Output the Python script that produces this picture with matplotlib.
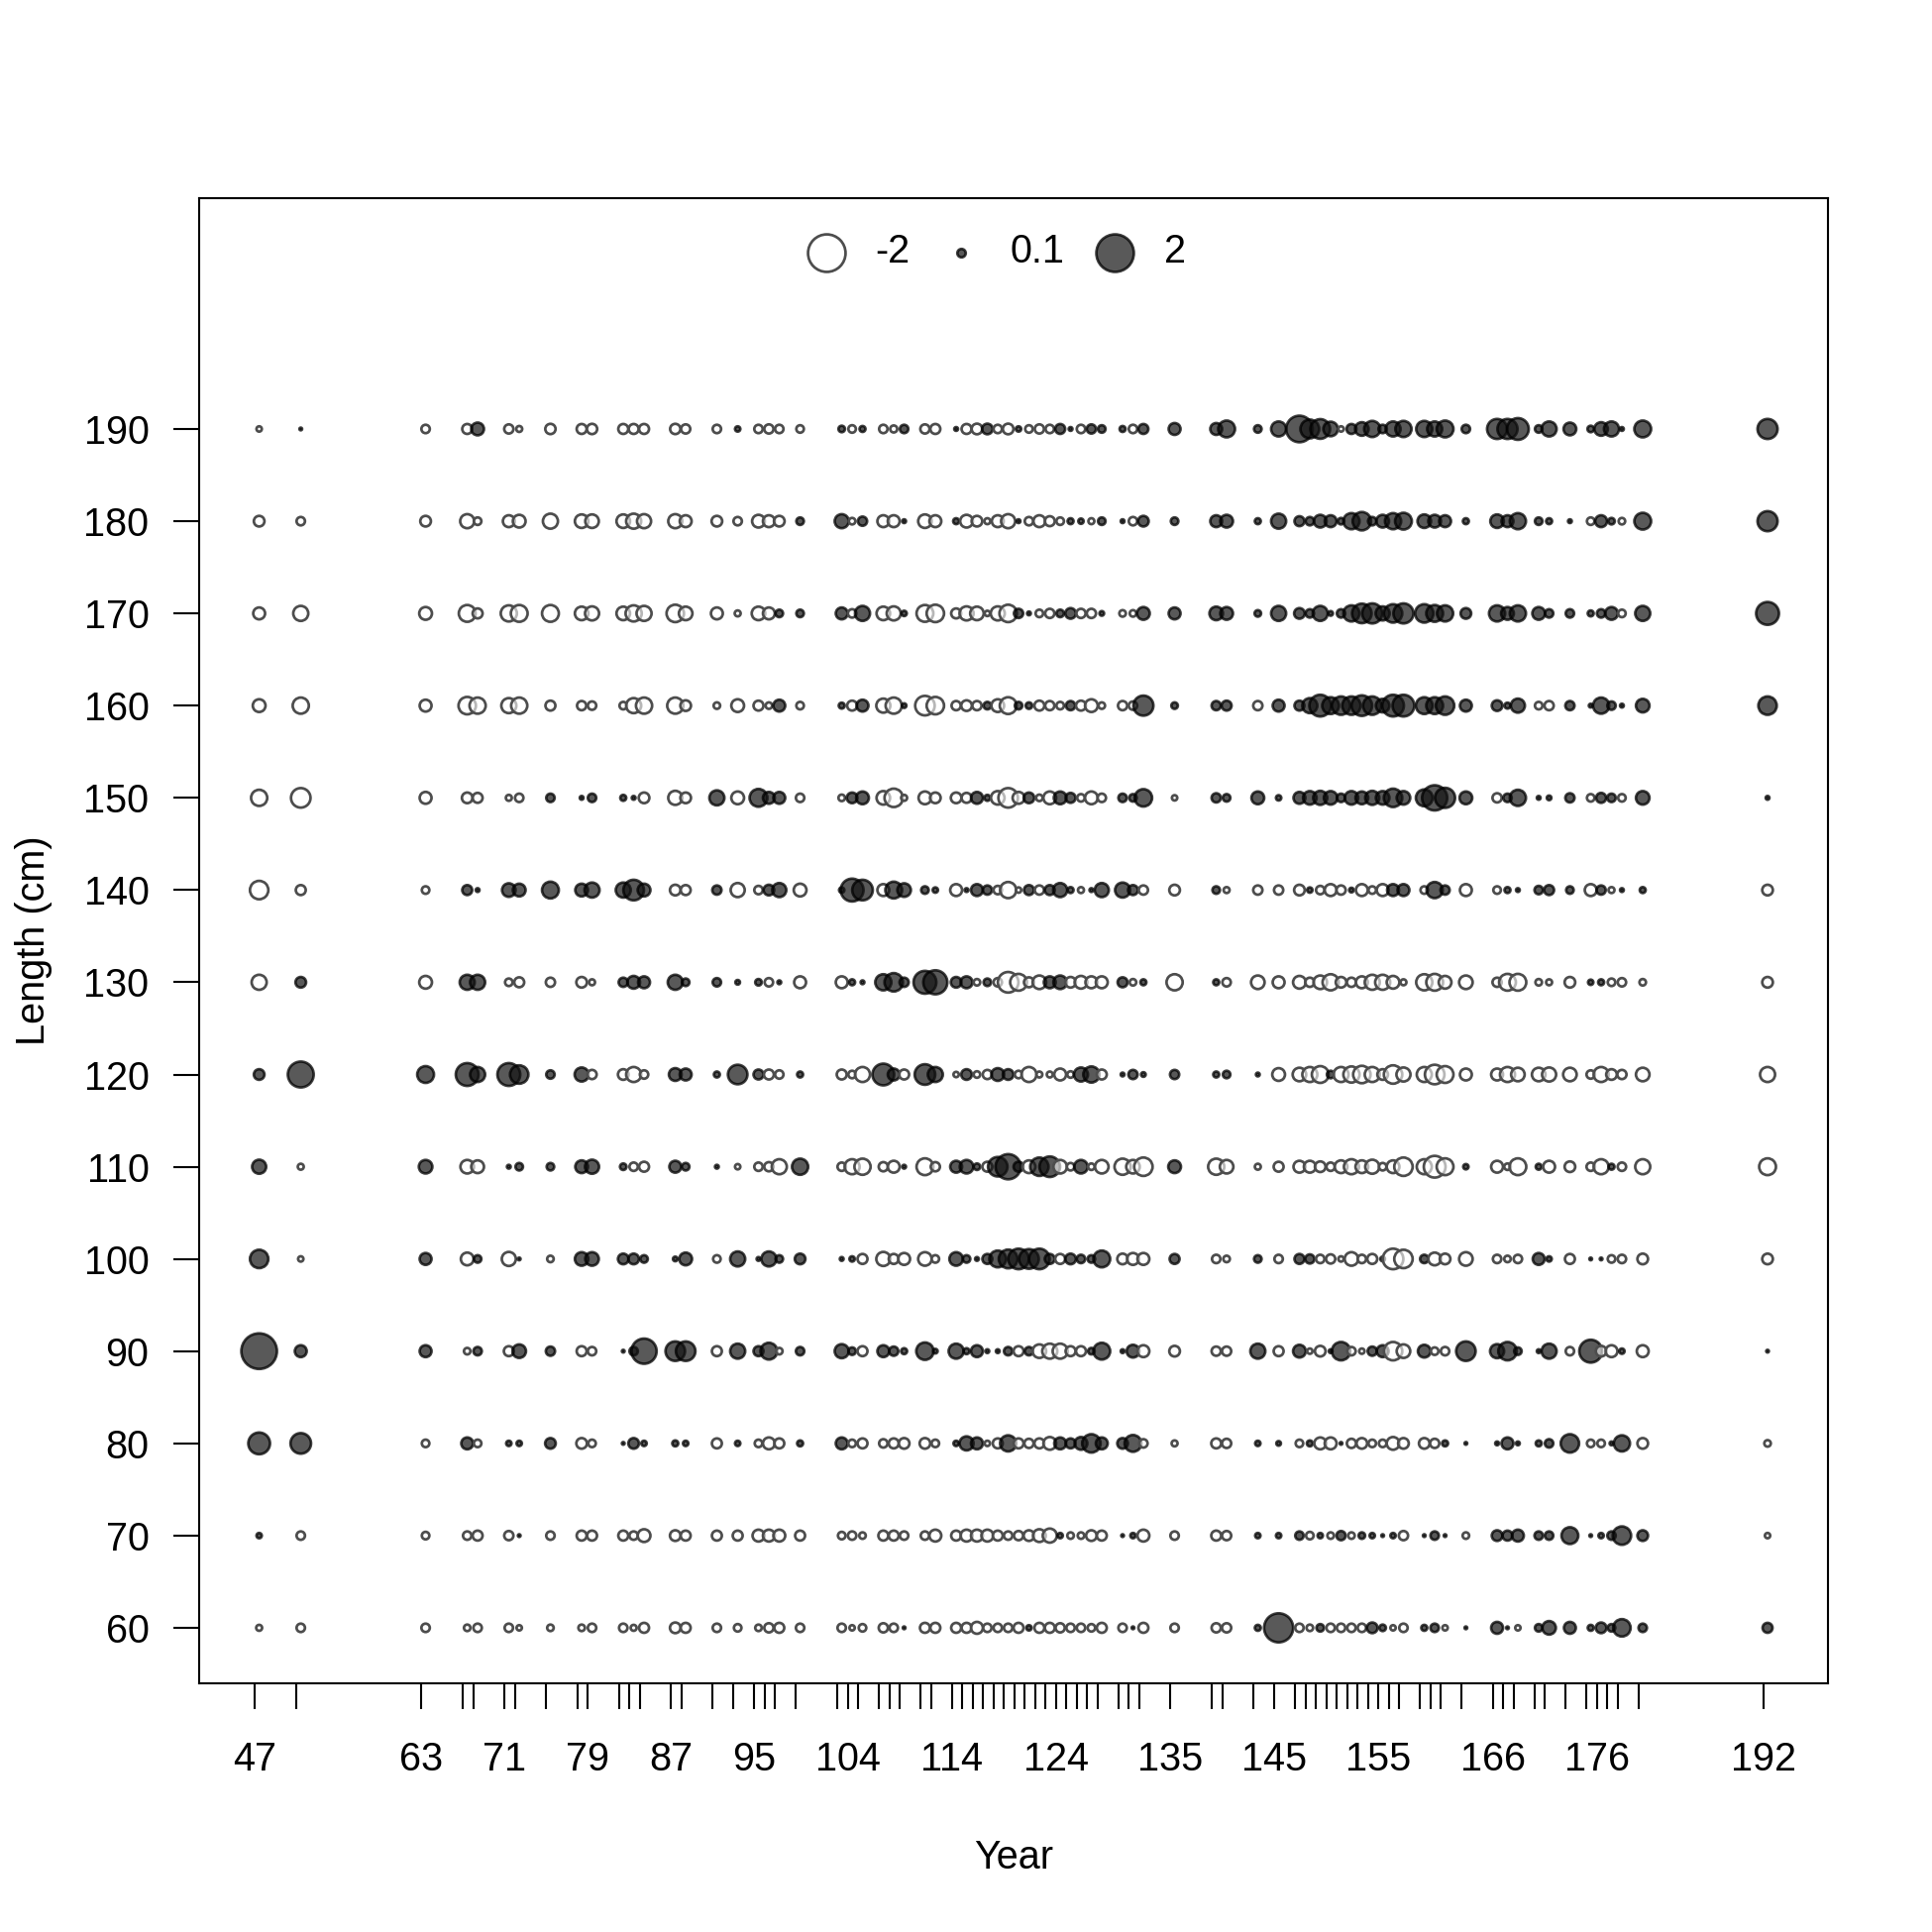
import matplotlib
matplotlib.use("Agg")
import matplotlib.pyplot as plt
import matplotlib.transforms as mtransforms
import numpy as np

plt.rcParams['font.family'] = ['Liberation Sans', 'DejaVu Sans']

years = [47, 51, 63, 67, 68, 71, 72, 75, 78, 79, 82, 83, 84, 87, 88, 91, 93, 95, 96, 97,
         99, 103, 104, 105, 107, 108, 109, 111, 112, 114, 115, 116, 117, 118, 119, 120, 121, 122, 123, 124,
         125, 126, 127, 128, 130, 131, 132, 135, 139, 140, 143, 145, 147, 148, 149, 150, 151, 152, 153, 154,
         155, 156, 157, 159, 160, 161, 163, 166, 167, 168, 170, 171, 173, 175, 176, 177, 178, 180, 192]
labelled_years = [47, 63, 71, 79, 87, 95, 104, 114, 124, 135, 145, 155, 166, 176, 192]
lengths = [60, 70, 80, 90, 100, 110, 120, 130, 140, 150, 160, 170, 180, 190]

# Pearson residuals by length bin (one value per year)
res_190 = [-0.04, 0.01, -0.10, -0.14, 0.23, -0.12, -0.05, -0.15, -0.14, -0.15,
           -0.14, -0.14, -0.14, -0.15, -0.12, -0.10, 0.04, -0.10, -0.12, -0.10,
           -0.08, 0.06, -0.08, 0.05, -0.10, -0.07, 0.10, -0.12, -0.14, 0.02,
           -0.14, -0.16, 0.16, -0.10, -0.16, 0.04, -0.08, -0.12, -0.10, 0.14,
           0.02, -0.10, 0.12, 0.08, 0.05, -0.10, 0.14, 0.20, 0.20, 0.40,
           0.08, 0.32, 1.00, 0.50, 0.55, 0.30, -0.04, 0.14, 0.26, 0.37,
           0.10, 0.32, 0.37, 0.37, 0.32, 0.40, 0.10, 0.57, 0.57, 0.67,
           0.08, 0.32, 0.23, 0.06, 0.26, 0.32, 0.02, 0.40, 0.57]
res_180 = [-0.16, -0.10, -0.16, -0.28, -0.08, -0.20, -0.23, -0.32, -0.26, -0.26,
           -0.26, -0.32, -0.28, -0.28, -0.20, -0.16, -0.10, -0.23, -0.20, -0.16,
           0.08, 0.28, -0.06, 0.12, -0.20, -0.20, 0.02, -0.26, -0.20, 0.05,
           -0.23, -0.16, -0.05, -0.20, -0.28, 0.02, -0.10, -0.20, -0.14, -0.08,
           0.05, 0.04, -0.05, 0.08, 0.02, -0.10, 0.16, 0.08, 0.20, 0.23,
           0.05, 0.32, 0.14, 0.10, 0.23, 0.20, 0.06, 0.37, 0.48, 0.10,
           0.23, 0.37, 0.40, 0.26, 0.23, 0.20, 0.05, 0.26, 0.20, 0.37,
           0.08, 0.05, 0.02, -0.08, 0.20, 0.06, -0.06, 0.40, 0.57]
res_170 = [-0.20, -0.32, -0.23, -0.40, -0.14, -0.37, -0.40, -0.40, -0.26, -0.28,
           -0.26, -0.37, -0.32, -0.43, -0.26, -0.20, -0.05, -0.26, -0.20, 0.08,
           0.08, 0.20, -0.10, 0.32, -0.26, -0.28, 0.04, -0.40, -0.43, -0.14,
           -0.28, -0.26, -0.04, -0.28, -0.43, 0.12, 0.02, -0.08, -0.12, 0.08,
           0.16, -0.12, -0.12, 0.03, -0.06, -0.06, 0.23, 0.20, 0.26, 0.23,
           0.06, 0.32, 0.16, 0.10, 0.32, 0.03, 0.10, 0.37, 0.54, 0.57,
           0.28, 0.48, 0.57, 0.48, 0.40, 0.37, 0.16, 0.37, 0.23, 0.37,
           0.23, 0.10, 0.10, 0.05, 0.10, 0.23, -0.08, 0.32, 0.74]
res_160 = [-0.23, -0.37, -0.20, -0.43, -0.37, -0.32, -0.37, -0.14, -0.12, -0.10,
           -0.08, -0.32, -0.37, -0.37, -0.16, -0.06, -0.23, -0.14, -0.06, 0.20,
           -0.08, 0.05, -0.14, 0.20, -0.28, -0.37, 0.03, -0.54, -0.43, -0.12,
           -0.16, -0.12, 0.08, -0.23, -0.40, 0.08, 0.06, -0.14, -0.12, -0.08,
           0.12, -0.14, -0.23, -0.06, -0.12, -0.10, 0.57, 0.06, 0.12, 0.14,
           -0.12, 0.20, 0.14, 0.32, 0.67, 0.40, 0.48, 0.48, 0.60, 0.48,
           0.26, 0.67, 0.67, 0.40, 0.40, 0.48, 0.20, 0.16, 0.05, 0.28,
           -0.08, -0.12, 0.12, 0.02, 0.37, 0.10, 0.02, 0.26, 0.48]
res_150 = [-0.37, -0.54, -0.20, -0.16, -0.14, -0.05, -0.10, 0.10, 0.02, 0.10,
           0.05, 0.02, -0.16, -0.28, -0.16, 0.32, -0.23, 0.45, 0.20, 0.20,
           -0.10, -0.06, 0.16, 0.23, -0.26, -0.48, -0.05, -0.23, -0.16, -0.16,
           -0.14, 0.20, 0.05, -0.26, -0.54, -0.20, 0.16, -0.06, -0.23, 0.23,
           0.14, -0.08, -0.23, -0.10, 0.10, 0.08, 0.43, -0.04, 0.12, 0.08,
           0.23, 0.04, 0.20, 0.26, 0.28, 0.26, 0.10, 0.26, 0.23, 0.28,
           0.26, 0.48, 0.26, 0.40, 0.90, 0.57, 0.23, -0.12, 0.10, 0.37,
           0.02, 0.03, 0.12, -0.08, 0.14, 0.10, -0.08, 0.26, 0.02]
res_140 = [-0.48, -0.14, -0.08, 0.14, 0.02, 0.26, 0.23, 0.40, 0.23, 0.32,
           0.32, 0.60, 0.23, -0.16, -0.14, 0.12, -0.28, -0.10, 0.16, 0.28,
           -0.23, 0.04, 0.74, 0.60, -0.20, 0.40, 0.26, 0.08, 0.04, -0.20,
           0.02, 0.20, 0.12, -0.10, -0.37, -0.04, 0.14, -0.12, 0.14, 0.28,
           0.05, -0.05, 0.02, 0.28, 0.32, 0.14, -0.12, -0.16, 0.08, -0.05,
           -0.12, -0.12, -0.16, 0.04, -0.10, -0.20, -0.12, 0.03, -0.20, -0.08,
           -0.20, 0.20, 0.20, -0.08, 0.37, 0.12, -0.20, -0.08, 0.05, 0.02,
           0.10, 0.14, 0.08, -0.20, 0.12, -0.05, 0.02, 0.05, -0.16]
res_130 = [-0.32, 0.16, -0.23, 0.32, 0.32, -0.08, -0.14, -0.12, -0.16, -0.05,
           0.12, 0.23, 0.20, 0.32, 0.08, 0.10, 0.03, 0.06, -0.10, 0.02,
           -0.20, -0.20, 0.05, 0.02, 0.37, 0.48, 0.12, 0.74, 0.82, 0.16,
           0.20, -0.06, 0.08, -0.10, -0.60, -0.40, -0.14, -0.26, 0.20, 0.26,
           -0.16, -0.23, -0.20, -0.20, 0.14, -0.06, 0.05, -0.37, 0.05, -0.10,
           -0.26, -0.20, -0.23, -0.12, -0.26, -0.37, -0.16, -0.12, -0.20, -0.32,
           -0.32, -0.23, -0.05, -0.37, -0.40, -0.23, -0.26, -0.12, -0.40, -0.40,
           -0.06, -0.05, -0.16, 0.04, 0.05, -0.08, -0.10, -0.06, -0.16]
res_120 = [0.16, 0.95, 0.40, 0.74, 0.32, 0.74, 0.48, 0.10, 0.28, -0.12,
           -0.16, -0.32, -0.10, 0.23, 0.20, 0.05, 0.54, 0.14, -0.14, -0.10,
           0.05, -0.14, -0.08, -0.32, 0.67, 0.20, -0.14, 0.60, 0.32, -0.04,
           0.16, -0.06, -0.12, 0.23, 0.16, -0.08, -0.32, -0.05, -0.05, -0.20,
           -0.06, 0.28, 0.37, -0.14, 0.02, 0.12, 0.03, 0.12, 0.05, 0.08,
           0.02, -0.23, -0.26, -0.32, -0.40, 0.08, -0.32, -0.37, -0.43, -0.32,
           -0.16, -0.48, -0.28, -0.32, -0.54, -0.40, -0.20, -0.20, -0.32, -0.26,
           -0.26, -0.28, -0.26, -0.10, -0.32, -0.16, -0.12, -0.26, -0.32]
res_110 = [0.28, -0.05, 0.26, -0.26, -0.23, 0.02, 0.08, 0.08, 0.23, 0.28,
           0.06, -0.10, -0.14, 0.20, 0.08, 0.02, -0.04, -0.10, -0.12, -0.32,
           0.37, -0.10, -0.32, -0.37, -0.12, -0.20, 0.02, -0.40, -0.12, 0.20,
           0.26, 0.06, -0.14, 0.54, 0.90, 0.14, -0.23, 0.48, 0.60, -0.26,
           -0.08, 0.26, -0.06, -0.26, -0.37, -0.26, -0.48, 0.23, -0.37, -0.26,
           -0.05, -0.14, -0.20, -0.20, -0.16, -0.10, -0.23, -0.32, -0.23, -0.28,
           -0.08, -0.23, -0.48, -0.32, -0.67, -0.40, 0.04, -0.20, -0.06, -0.40,
           0.05, -0.20, -0.16, -0.10, -0.32, 0.05, -0.10, -0.32, -0.40]
res_100 = [0.48, -0.04, 0.20, -0.23, 0.08, -0.28, 0.01, -0.06, 0.26, 0.26,
           0.16, 0.16, 0.08, 0.03, 0.23, -0.08, 0.32, 0.02, 0.32, 0.08,
           0.16, 0.02, 0.04, -0.14, -0.28, -0.14, -0.20, -0.26, -0.08, 0.26,
           0.08, 0.02, 0.14, 0.40, 0.50, 0.60, 0.55, 0.60, 0.14, -0.14,
           0.16, 0.10, 0.08, 0.40, -0.16, -0.20, -0.20, 0.14, -0.10, -0.06,
           0.08, -0.10, 0.14, 0.12, -0.10, -0.12, -0.04, -0.26, -0.10, -0.14,
           0.03, -0.60, -0.48, 0.10, -0.23, -0.16, -0.26, -0.10, -0.06, -0.10,
           0.20, 0.04, -0.14, 0.01, 0.01, -0.08, -0.10, -0.16, -0.16]
res_90 = [1.80, 0.20, 0.20, -0.06, 0.10, -0.14, 0.26, 0.12, -0.14, -0.10,
          0.01, 0.10, 0.90, 0.54, 0.54, -0.14, 0.32, 0.14, 0.40, -0.06,
          0.10, 0.28, 0.08, -0.14, 0.20, 0.12, 0.05, 0.43, 0.03, 0.32,
          0.05, 0.20, 0.02, 0.02, 0.10, -0.14, 0.10, -0.26, -0.32, -0.32,
          -0.14, -0.14, 0.06, 0.40, 0.02, 0.23, -0.20, -0.16, -0.12, -0.12,
          0.32, -0.14, 0.23, -0.04, -0.16, 0.02, 0.48, -0.10, -0.04, 0.12,
          0.20, -0.48, -0.26, 0.23, -0.08, -0.10, 0.54, 0.28, 0.48, 0.08,
          0.02, 0.32, -0.10, 0.74, -0.16, -0.20, 0.04, -0.20, 0.01]
res_80 = [0.67, 0.60, -0.08, 0.20, -0.08, 0.04, 0.04, 0.16, -0.16, -0.08,
          0.01, 0.16, 0.04, 0.05, 0.04, -0.14, 0.04, -0.08, -0.20, -0.14,
          0.05, 0.20, -0.08, -0.14, -0.10, -0.14, -0.16, -0.16, -0.08, 0.04,
          0.28, 0.20, -0.04, -0.14, 0.37, -0.14, -0.12, -0.14, -0.23, 0.20,
          0.14, 0.23, 0.48, 0.20, 0.16, 0.40, -0.10, -0.05, -0.14, -0.12,
          0.04, 0.03, -0.08, 0.05, -0.20, -0.20, 0.01, -0.12, -0.16, -0.08,
          -0.08, -0.23, -0.16, -0.16, -0.12, 0.05, 0.01, 0.02, 0.20, 0.02,
          0.05, 0.10, 0.48, -0.08, -0.08, 0.02, 0.37, -0.16, -0.06]
res_70 = [0.04, -0.10, -0.08, -0.10, -0.14, -0.12, 0.01, -0.10, -0.14, -0.14,
          -0.14, -0.10, -0.23, -0.16, -0.14, -0.14, -0.14, -0.20, -0.20, -0.20,
          -0.14, -0.08, -0.10, -0.06, -0.14, -0.14, -0.10, -0.10, -0.20, -0.14,
          -0.20, -0.20, -0.20, -0.14, -0.10, -0.12, -0.16, -0.23, -0.28, 0.04,
          -0.06, -0.06, -0.16, -0.14, 0.01, 0.04, -0.20, -0.10, -0.14, -0.12,
          0.04, 0.04, 0.10, -0.08, 0.04, -0.06, 0.12, -0.06, 0.06, 0.04,
          0.01, 0.04, -0.12, 0.01, 0.10, 0.01, -0.06, 0.16, 0.14, 0.20,
          0.10, 0.10, 0.40, 0.01, 0.04, 0.10, 0.48, 0.16, -0.04]
res_60 = [-0.05, -0.10, -0.10, -0.06, -0.10, -0.10, -0.04, -0.06, -0.06, -0.10,
          -0.10, -0.05, -0.14, -0.16, -0.14, -0.10, -0.08, -0.06, -0.12, -0.14,
          -0.10, -0.10, -0.04, -0.08, -0.12, -0.10, 0.01, -0.14, -0.14, -0.14,
          -0.14, -0.20, -0.10, -0.10, -0.10, -0.14, 0.04, -0.14, -0.14, -0.12,
          -0.10, -0.10, -0.08, -0.14, -0.10, 0.01, -0.14, -0.10, -0.12, -0.12,
          0.05, 1.20, -0.10, -0.06, 0.08, -0.10, -0.10, -0.10, -0.10, 0.16,
          0.06, -0.04, -0.10, 0.05, 0.10, -0.04, 0.01, 0.20, 0.01, -0.04,
          0.08, 0.26, 0.20, 0.05, 0.16, 0.08, 0.43, 0.10, 0.14]

rows = [res_60, res_70, res_80, res_90, res_100, res_110, res_120,
        res_130, res_140, res_150, res_160, res_170, res_180, res_190]

# build long arrays, year-major like the original bubble plot
xs, ys, vals = [], [], []
for i, yr in enumerate(years):
    for L, row in zip(lengths, rows):
        xs.append(yr)
        ys.append(L)
        vals.append(row[i])
xs = np.array(xs)
ys = np.array(ys)
vals = np.array(vals)

size_per_unit = 165.0
lw = 1.3
pos_face = (0.07, 0.07, 0.07, 0.7)
pos_edge = (0.0, 0.0, 0.0, 0.75)
neg_face = (1.0, 1.0, 1.0, 0.6)
neg_edge = (0.3, 0.3, 0.3, 1.0)

face = [pos_face if v > 0 else neg_face for v in vals]
edge = [pos_edge if v > 0 else neg_edge for v in vals]

fig = plt.figure(figsize=(13, 13), dpi=150)
ax = fig.add_axes([0.1033, 0.1288, 0.8431, 0.7685])

# the original draws the bubbles a hair right of the tick marks
shifted = mtransforms.offset_copy(ax.transData, fig=fig, x=2.0, y=0, units='points')
ax.scatter(xs, ys, s=size_per_unit * np.abs(vals), c=face, edgecolors=edge,
           linewidths=lw, zorder=3, transform=shifted)

ax.set_xlim(41.67, 198.25)
ax.set_ylim(54, 215)

ax.set_xticks(years)
ax.set_xticklabels([str(y) if y in labelled_years else '' for y in years])
ax.set_yticks(lengths)
ax.set_yticklabels([str(L) for L in lengths])
ax.tick_params(axis='x', length=12.5, width=1.0, pad=15.5, labelsize=19)
ax.tick_params(axis='y', length=12.5, width=1.0, pad=12, labelsize=19)
for sp in ax.spines.values():
    sp.set_linewidth(1.0)

ax.set_xlabel('Year', fontsize=19)
ax.set_ylabel('Length (cm)', fontsize=19)
ax.xaxis.set_label_coords(0.5, -0.105)
ax.yaxis.set_label_coords(-0.090, 0.5)

# legend
leg_vals = [-2, 0.1, 2]
handles = []
for v in leg_vals:
    h = ax.scatter([], [], s=size_per_unit * abs(v),
                   c=[pos_face if v > 0 else neg_face],
                   edgecolors=[pos_edge if v > 0 else neg_edge], linewidths=lw)
    handles.append(h)
ax.legend(handles, [str(v) for v in leg_vals], ncol=3, loc='upper center',
          bbox_to_anchor=(0.489, 0.995), frameon=False, fontsize=19,
          handlelength=1.0, handletextpad=0.75, columnspacing=0.8,
          scatterpoints=1, borderaxespad=0.3)

fig.savefig('out.png', dpi=150)
